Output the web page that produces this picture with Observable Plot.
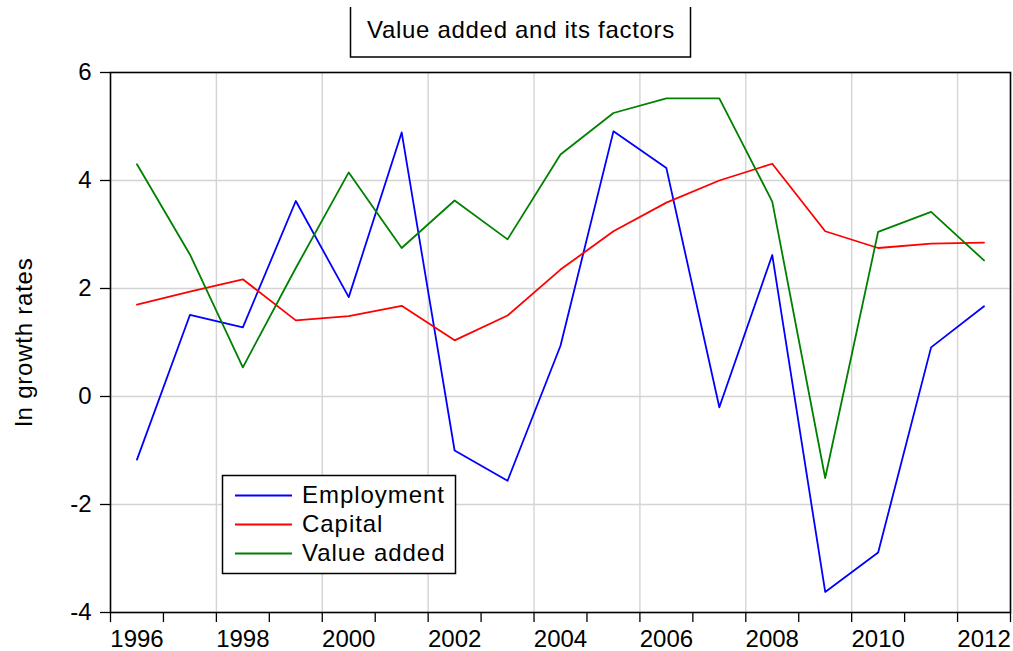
<!DOCTYPE html>
<html><head><meta charset="utf-8">
<script src="https://cdn.jsdelivr.net/npm/d3@7"></script>
<script src="https://cdn.jsdelivr.net/npm/@observablehq/plot@0.6"></script>
<style>body{margin:0;background:#fff;} svg{display:block}</style>
</head><body><div id="chart"></div>
<script>
const years = [1996,1997,1998,1999,2000,2001,2002,2003,2004,2005,2006,2007,2008,2009,2010,2011,2012];
const employment = [-1.17,1.51,1.28,3.62,1.84,4.89,-1.0,-1.56,0.94,4.91,4.23,-0.2,2.62,-3.62,-2.89,0.91,1.67];
const capital = [1.70,1.94,2.17,1.41,1.49,1.68,1.04,1.50,2.35,3.06,3.59,4.0,4.31,3.06,2.75,2.83,2.85];
const valueAdded = [4.30,2.63,0.54,2.38,4.15,2.75,3.63,2.91,4.48,5.25,5.52,5.52,3.61,-1.51,3.05,3.42,2.52];
const seriesNames = ["Employment","Capital","Value added"];
const seriesColors = ["#0000ff","#ff0000","#008000"];
const yTicks = [-4,-2,0,2,4,6];
const yGrid = [-2,0,2,4];
const xTickYears = [1996,1997,1998,1999,2000,2001,2002,2003,2004,2005,2006,2007,2008,2009,2010,2011,2012,2013];
const xLabelYears = [1996,1998,2000,2002,2004,2006,2008,2010,2012];
const xGridYears = [1998,2000,2002,2004,2006,2008,2010,2012];
const title = "Value added and its factors";
const yLabel = "ln growth rates";

const rows = [];
[employment, capital, valueAdded].forEach((vals, i) =>
  vals.forEach((v, j) => rows.push({series: seriesNames[i], year: years[j], value: v})));

const font = "'Liberation Sans', Arial, sans-serif";
const plot = Plot.plot({
  width: 1013, height: 651,
  marginLeft: 110, marginRight: 3, marginTop: 72, marginBottom: 39,
  style: {fontFamily: font, fontSize: "24px", background: "#fff", color: "#000", overflow: "visible"},
  x: {domain: [1996, 2013]},
  y: {domain: [-4, 6]},
  color: {domain: seriesNames, range: seriesColors},
  marks: [
    Plot.gridX(xGridYears, {stroke: "#d4d4d4", strokeOpacity: 1, strokeWidth: 1.4}),
    Plot.gridY(yGrid, {stroke: "#d4d4d4", strokeOpacity: 1, strokeWidth: 1.4}),
    Plot.line(rows, {x: d => d.year + 0.5, y: "value", stroke: "series", z: "series", strokeWidth: 1.8}),
    Plot.axisY(yTicks, {tickSize: 10, tickPadding: 9, label: null, tickFormat: d => String(d), strokeWidth: 1.3}),
    Plot.axisX(xTickYears, {tickSize: 10, tickFormat: () => "", label: null, strokeWidth: 1.3}),
    Plot.axisX(xLabelYears.map(y => y + 0.5), {tickSize: 0, tickPadding: 17, tickFormat: d => String(Math.floor(d)), label: null}),
    Plot.frame({stroke: "#000", strokeWidth: 1.6})
  ]
});
document.getElementById("chart").appendChild(plot);

const svg = d3.select(plot);
// title box
const tg = svg.append("g");
tg.append("path").attr("d", "M350.5,7V57H690.5V7").attr("fill", "none").attr("stroke", "#000").attr("stroke-width", 1.5);
tg.append("text").attr("x", 521).attr("y", 38).attr("text-anchor", "middle")
  .attr("font-family", font).attr("font-size", 24).attr("letter-spacing", "0.7px").attr("fill", "#000").text(title);
// y label
svg.append("text").attr("transform", "translate(32,342) rotate(-90)").attr("text-anchor", "middle")
  .attr("font-family", font).attr("font-size", 24).attr("letter-spacing", "0.77px").attr("fill", "#000").text(yLabel);
// legend
const lg = svg.append("g");
lg.append("rect").attr("x", 222.5).attr("y", 475.5).attr("width", 233).attr("height", 98)
  .attr("fill", "#fff").attr("stroke", "#000").attr("stroke-width", 1.5);
seriesNames.forEach((name, i) => {
  const y = 495.5 + i * 29;
  lg.append("line").attr("x1", 235).attr("x2", 292).attr("y1", y).attr("y2", y)
    .attr("stroke", seriesColors[i]).attr("stroke-width", 1.8);
  lg.append("text").attr("x", 302).attr("y", y + 7).attr("text-anchor", "start")
    .attr("font-family", font).attr("font-size", 24).attr("letter-spacing", "0.95px")
    .attr("fill", "#000").text(name);
});
</script></body></html>
